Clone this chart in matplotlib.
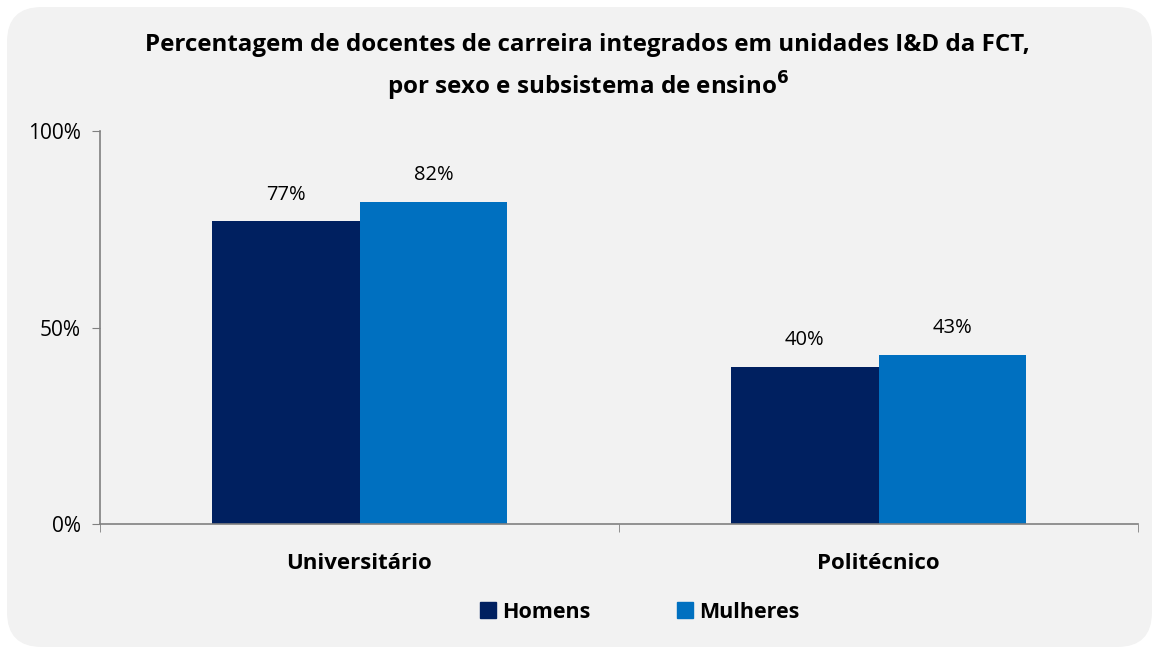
import matplotlib
matplotlib.use("Agg")
import matplotlib.pyplot as plt
from matplotlib.patches import FancyBboxPatch, Patch
import numpy as np

categories = ["Universitário", "Politécnico"]
series_names = ["Homens", "Mulheres"]
homens = [77, 40]
mulheres = [82, 43]
yticks = [0, 50, 100]
ytick_labels = ["0%", "50%", "100%"]
title = "Percentagem de docentes de carreira integrados em unidades I&D da FCT,\npor sexo e subsistema de ensino$^{\\mathbf{6}}$"
colors = ["#002060", "#0070C0"]

plt.rcParams['font.family'] = ['Open Sans', 'DejaVu Sans']

fig = plt.figure(figsize=(11.59, 6.53), dpi=100)
W, H = 1159, 653
bg = FancyBboxPatch((7 / W, 6 / H), (1152 - 7) / W, (646 - 6) / H,
                    boxstyle="round,pad=0,rounding_size=0.03",
                    transform=fig.transFigure, facecolor="#F2F2F2",
                    edgecolor="none", mutation_aspect=W / H, zorder=-10)
fig.patches.append(bg)

ax = fig.add_axes([100 / W, (H - 524) / H, (1138 - 100) / W, (524 - 131) / H])
ax.set_facecolor("none")
x = np.arange(len(categories))
bw = 0.285
b1 = ax.bar(x - bw / 2, homens, bw, color=colors[0], label=series_names[0])
b2 = ax.bar(x + bw / 2, mulheres, bw, color=colors[1], label=series_names[1])
for bars, vals in ((b1, homens), (b2, mulheres)):
    for r, v in zip(bars, vals):
        ax.annotate(f"{v}%", (r.get_x() + r.get_width() / 2, v),
                    xytext=(0, 12), textcoords="offset points",
                    ha="center", va="bottom", fontsize=14.5, color="#000000")

ax.set_xlim(-0.5, 1.5)
ax.set_ylim(0, 100)
ax.set_yticks(yticks)
ax.set_yticklabels(ytick_labels, fontsize=15)
ax.set_xticks(x)
ax.set_xticklabels(categories, fontsize=16, fontweight="bold")
ax.set_xticks([-0.5, 0.5, 1.5], minor=True)
ax.tick_params(axis="x", which="major", length=0, pad=21)
ax.tick_params(axis="x", which="minor", length=6, color="#808080", direction="out")
ax.tick_params(axis="y", length=6, color="#808080", pad=8)
for s in ("top", "right"):
    ax.spines[s].set_visible(False)
for s in ("left", "bottom"):
    ax.spines[s].set_color("#808080")
    ax.spines[s].set_linewidth(1.2)

fig.text(0.507, 1 - 68 / H, title, ha="center", va="center", fontsize=17.4,
         fontweight="bold", linespacing=1.48)

handles = [Patch(color=c) for c in colors]
fig.legend(handles, series_names, loc="center", bbox_to_anchor=(0.552, 1 - 612 / H),
           ncol=2, frameon=False, prop={"weight": "bold", "size": 15.5},
           handlelength=0.75, handleheight=0.75, handletextpad=0.3, columnspacing=4.0)

fig.savefig("out.png", dpi=100)
